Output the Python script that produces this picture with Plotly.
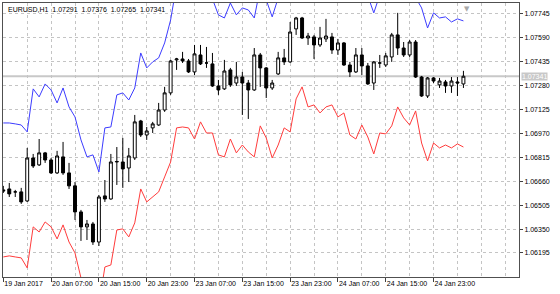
import plotly.graph_objects as go

# ---- data (EURUSD H1, bars indexed from 19 Jan 2017 23:00) ----
open_ = [1.06604, 1.06610, 1.06591, 1.06591, 1.06532, 1.06811, 1.06766, 1.06844, 1.06798, 1.06714,
         1.06818, 1.06714, 1.06630, 1.06461, 1.06364, 1.06383, 1.06266, 1.06565, 1.06545, 1.06785,
         1.06785, 1.06746, 1.06811, 1.07051, 1.06960, 1.07006, 1.07025, 1.07122, 1.07233, 1.07447,
         1.07453, 1.07440, 1.07369, 1.07479, 1.07427, 1.07421, 1.07278, 1.07259, 1.07382, 1.07297,
         1.07336, 1.07297, 1.07252, 1.07479, 1.07395, 1.07265, 1.07356, 1.07460, 1.07434, 1.07648,
         1.07719, 1.07589, 1.07596, 1.07544, 1.07583, 1.07596, 1.07511, 1.07557, 1.07414, 1.07369,
         1.07479, 1.07408, 1.07297, 1.07427, 1.07414, 1.07466, 1.07609, 1.07524, 1.07479, 1.07563,
         1.07336, 1.07213, 1.07330, 1.07285, 1.07304, 1.07278, 1.07304, 1.07291]
high = [1.06630, 1.06649, 1.06604, 1.06617, 1.06876, 1.06837, 1.06934, 1.06850, 1.06811, 1.06857,
        1.06915, 1.06779, 1.06655, 1.06474, 1.06409, 1.06396, 1.06571, 1.06668, 1.06837, 1.06882,
        1.06941, 1.06876, 1.07090, 1.07058, 1.07012, 1.07045, 1.07168, 1.07272, 1.07447, 1.07460,
        1.07499, 1.07453, 1.07544, 1.07544, 1.07531, 1.07492, 1.07317, 1.07447, 1.07395, 1.07434,
        1.07369, 1.07317, 1.07524, 1.07492, 1.07401, 1.07317, 1.07499, 1.07518, 1.07693, 1.07726,
        1.07726, 1.07622, 1.07609, 1.07661, 1.07713, 1.07622, 1.07583, 1.07563, 1.07434, 1.07524,
        1.07524, 1.07427, 1.07440, 1.07479, 1.07492, 1.07622, 1.07752, 1.07563, 1.07576, 1.07576,
        1.07343, 1.07336, 1.07336, 1.07330, 1.07317, 1.07336, 1.07336, 1.07376]
low = [1.06584, 1.06558, 1.06558, 1.06513, 1.06526, 1.06746, 1.06759, 1.06779, 1.06707, 1.06707,
       1.06701, 1.06610, 1.06409, 1.06273, 1.06279, 1.06247, 1.06240, 1.06526, 1.06540, 1.06636,
       1.06617, 1.06655, 1.06798, 1.06947, 1.06928, 1.06973, 1.07019, 1.07110, 1.07220, 1.07382,
       1.07427, 1.07362, 1.07349, 1.07414, 1.07395, 1.07272, 1.07220, 1.07252, 1.07272, 1.07278,
       1.07090, 1.07064, 1.07246, 1.07272, 1.07200, 1.07252, 1.07349, 1.07414, 1.07427, 1.07609,
       1.07583, 1.07544, 1.07453, 1.07531, 1.07563, 1.07486, 1.07479, 1.07408, 1.07336, 1.07362,
       1.07349, 1.07285, 1.07252, 1.07395, 1.07401, 1.07434, 1.07479, 1.07466, 1.07466, 1.07330,
       1.07207, 1.07200, 1.07297, 1.07265, 1.07233, 1.07233, 1.07213, 1.07265]
close = [1.06597, 1.06578, 1.06591, 1.06526, 1.06811, 1.06759, 1.06844, 1.06798, 1.06714, 1.06824,
         1.06714, 1.06630, 1.06461, 1.06364, 1.06383, 1.06266, 1.06558, 1.06545, 1.06785, 1.06788,
         1.06740, 1.06824, 1.07045, 1.06960, 1.06986, 1.07032, 1.07122, 1.07233, 1.07440, 1.07453,
         1.07440, 1.07369, 1.07486, 1.07421, 1.07427, 1.07278, 1.07252, 1.07375, 1.07285, 1.07336,
         1.07297, 1.07252, 1.07479, 1.07395, 1.07265, 1.07297, 1.07460, 1.07434, 1.07628, 1.07719,
         1.07589, 1.07602, 1.07544, 1.07589, 1.07602, 1.07511, 1.07557, 1.07414, 1.07369, 1.07479,
         1.07408, 1.07291, 1.07434, 1.07427, 1.07473, 1.07609, 1.07524, 1.07479, 1.07563, 1.07336,
         1.07213, 1.07330, 1.07310, 1.07310, 1.07278, 1.07310, 1.07297, 1.07341]
upper = [1.07038, 1.07038, 1.07032, 1.07025, 1.06980, 1.07259, 1.07207, 1.07291, 1.07252, 1.07168,
         1.07265, 1.07142, 1.07077, 1.06928, 1.06818, 1.06831, 1.06720, 1.07006, 1.07012, 1.07220,
         1.07233, 1.07187, 1.07265, 1.07492, 1.07395, 1.07434, 1.07460, 1.07557, 1.07706, 1.07933,
         1.07907, 1.07901, 1.07849, 1.07940, 1.07868, 1.07842, 1.07739, 1.07719, 1.07816, 1.07739,
         1.07784, 1.07771, 1.07719, 1.07914, 1.07836, 1.07726, 1.07849, 1.07901, 1.07868, 1.08089,
         1.08167, 1.08037, 1.08050, 1.07998, 1.08037, 1.08050, 1.07972, 1.07998, 1.07855, 1.07855,
         1.07920, 1.07862, 1.07752, 1.07868, 1.07862, 1.07914, 1.08037, 1.07965, 1.07920, 1.07855,
         1.07784, 1.07654, 1.07752, 1.07719, 1.07726, 1.07693, 1.07713, 1.07700]
lower = [1.06169, 1.06176, 1.06169, 1.06163, 1.06098, 1.06364, 1.06331, 1.06396, 1.06364, 1.06286,
         1.06377, 1.06266, 1.06195, 1.06033, 1.05923, 1.05910, 1.05858, 1.06104, 1.06117, 1.06344,
         1.06351, 1.06299, 1.06390, 1.06610, 1.06526, 1.06558, 1.06591, 1.06688, 1.06785, 1.07006,
         1.07012, 1.07006, 1.06934, 1.07045, 1.06973, 1.06973, 1.06831, 1.06818, 1.06934, 1.06844,
         1.06895, 1.06850, 1.06818, 1.07019, 1.06941, 1.06811, 1.06895, 1.07006, 1.06980, 1.07194,
         1.07272, 1.07142, 1.07155, 1.07103, 1.07142, 1.07155, 1.07077, 1.07103, 1.06960, 1.06934,
         1.07025, 1.06947, 1.06837, 1.06973, 1.06967, 1.07019, 1.07142, 1.07071, 1.07025, 1.07116,
         1.06908, 1.06792, 1.06908, 1.06876, 1.06895, 1.06876, 1.06902, 1.06882]

time_tick_bars = [0, 8, 16, 24, 32, 40, 48, 56, 64, 72]
time_tick_labels = ["19 Jan 2017", "20 Jan 07:00", "20 Jan 15:00", "20 Jan 23:00", "23 Jan 07:00",
                    "23 Jan 15:00", "23 Jan 23:00", "24 Jan 07:00", "24 Jan 15:00", "24 Jan 23:00"]
price_ticks = [1.06195, 1.06350, 1.06505, 1.06660, 1.06815, 1.06970, 1.07125, 1.07280, 1.07435, 1.07590, 1.07745]
symbol = "EURUSD,H1"
bid = close[-1]

x = list(range(len(close)))
FONT = "Liberation Sans"
GRID = "#c4c4c4"

fig = go.Figure()
fig.add_trace(go.Scatter(x=x, y=upper, mode="lines", line=dict(color="#3c3cff", width=1), hoverinfo="skip"))
fig.add_trace(go.Scatter(x=x, y=lower, mode="lines", line=dict(color="#ff3c3c", width=1), hoverinfo="skip"))
fig.add_trace(go.Candlestick(
    x=x, open=open_, high=high, low=low, close=close,
    increasing=dict(line=dict(color="#000000", width=1), fillcolor="#ffffff"),
    decreasing=dict(line=dict(color="#000000", width=1), fillcolor="#000000"),
    whiskerwidth=0,
))

fig.add_hline(y=bid, line=dict(color="#c8c8c8", width=2), layer="below")

fig.update_layout(
    width=560, height=294,
    margin=dict(l=3, r=41, t=3, b=17),
    paper_bgcolor="#ffffff", plot_bgcolor="#ffffff",
    showlegend=False,
    font=dict(family=FONT, size=7, color="#000000"),
    xaxis=dict(
        range=[-0.05, 86.3], rangeslider=dict(visible=False),
        tickmode="array", tickvals=time_tick_bars, ticktext=time_tick_labels,
        ticks="outside", ticklen=4, tickcolor="#404040", tickangle=0,
        ticklabelposition="outside right",
        showgrid=True, gridcolor=GRID, griddash="3px,3px", gridwidth=1,
        minor=dict(dtick=4, tick0=0, showgrid=True, gridcolor=GRID, griddash="3px,3px", ticks=""),
        showline=True, linecolor="#505050", linewidth=1, mirror=True,
        zeroline=False, fixedrange=True,
        tickfont=dict(family=FONT, size=7, color="#000000"),
    ),
    yaxis=dict(
        range=[1.06039, 1.07816], side="right",
        tickmode="array", tickvals=price_ticks, ticktext=[f"{v:.5f}" for v in price_ticks],
        ticks="outside", ticklen=3, tickcolor="#404040",
        showgrid=True, gridcolor=GRID, griddash="3px,3px", gridwidth=1,
        showline=True, linecolor="#505050", linewidth=1, mirror=True,
        zeroline=False, fixedrange=True,
        tickfont=dict(family=FONT, size=7, color="#000000"),
    ),
)

fig.add_annotation(
    xref="paper", yref="paper", x=0.005, y=0.995, xanchor="left", yanchor="top",
    text=f"{symbol}  {open_[-1]:.5f}  {high[-1]:.5f}  {low[-1]:.5f}  {close[-1]:.5f}",
    showarrow=False, font=dict(family=FONT, size=7, color="#000000"),
)
fig.add_annotation(
    xref="paper", yref="y", x=1.0, y=bid, xanchor="left", yanchor="middle", xshift=2,
    text=f"{bid:.5f}", showarrow=False, bgcolor="#c8c8c8", borderpad=0,
    font=dict(family=FONT, size=7, color="#ffffff"),
)
fig.add_annotation(
    xref="paper", yref="paper", x=(466.7 - 3) / 516, y=1.0, xanchor="center", yanchor="top",
    text="▼", showarrow=False, font=dict(family="DejaVu Sans", size=7, color="#a8a8a8"),
)

fig.write_html("out.html")
